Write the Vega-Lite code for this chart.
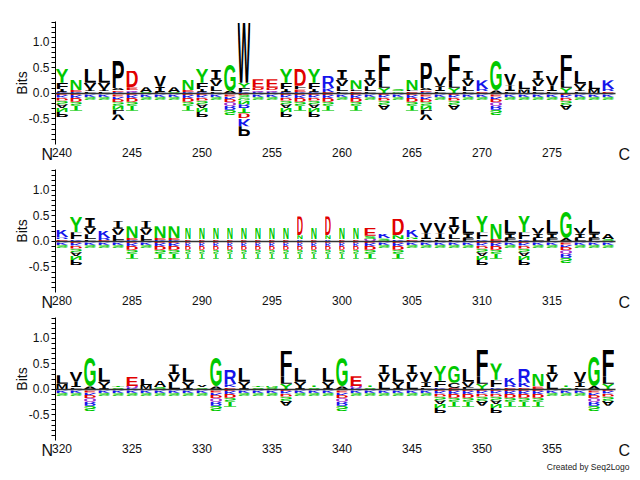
{
  "$schema": "https://vega.github.io/schema/vega-lite/v6.json",
  "background": "white",
  "padding": {"left": 15, "top": 15, "right": 2, "bottom": 2},
  "title": {"text": "Created by Seq2Logo", "orient": "bottom", "anchor": "end", "fontSize": 8.5, "fontWeight": "normal", "font": "Liberation Sans", "color": "#222", "offset": 5},
  "data": {"values": [
{"p":240,"a":"K","b":0.02},{"p":240,"a":"I","b":0.06},{"p":240,"a":"F","b":0.12},{"p":240,"a":"Y","b":0.28},{"p":240,"a":"E","b":-0.04},{"p":240,"a":"K","b":-0.05},{"p":240,"a":"D","b":-0.06},{"p":240,"a":"S","b":-0.07},{"p":240,"a":"A","b":-0.075},{"p":240,"a":"N","b":-0.08},{"p":240,"a":"P","b":-0.1},
{"p":241,"a":"K","b":0.02},{"p":241,"a":"E","b":0.04},{"p":241,"a":"N","b":0.21},{"p":241,"a":"E","b":-0.04},{"p":241,"a":"K","b":-0.06},{"p":241,"a":"D","b":-0.07},{"p":241,"a":"S","b":-0.08},{"p":241,"a":"T","b":-0.1},
{"p":242,"a":"F","b":0.03},{"p":242,"a":"I","b":0.05},{"p":242,"a":"V","b":0.12},{"p":242,"a":"L","b":0.28},{"p":242,"a":"E","b":-0.03},{"p":242,"a":"K","b":-0.05},{"p":242,"a":"S","b":-0.06},
{"p":243,"a":"F","b":0.03},{"p":243,"a":"I","b":0.05},{"p":243,"a":"V","b":0.12},{"p":243,"a":"L","b":0.28},{"p":243,"a":"E","b":-0.03},{"p":243,"a":"K","b":-0.05},{"p":243,"a":"S","b":-0.06},
{"p":244,"a":"K","b":0.02},{"p":244,"a":"E","b":0.03},{"p":244,"a":"A","b":0.04},{"p":244,"a":"P","b":0.54},{"p":244,"a":"Q","b":-0.03},{"p":244,"a":"E","b":-0.04},{"p":244,"a":"K","b":-0.05},{"p":244,"a":"D","b":-0.06},{"p":244,"a":"S","b":-0.07},{"p":244,"a":"N","b":-0.08},{"p":244,"a":"L","b":-0.09},{"p":244,"a":"V","b":-0.12},
{"p":245,"a":"K","b":0.02},{"p":245,"a":"Q","b":0.03},{"p":245,"a":"E","b":0.06},{"p":245,"a":"D","b":0.33},{"p":245,"a":"E","b":-0.04},{"p":245,"a":"K","b":-0.06},{"p":245,"a":"D","b":-0.07},{"p":245,"a":"S","b":-0.08},{"p":245,"a":"T","b":-0.1},
{"p":246,"a":"S","b":0.02},{"p":246,"a":"A","b":0.09},{"p":246,"a":"E","b":-0.03},{"p":246,"a":"K","b":-0.05},{"p":246,"a":"S","b":-0.06},
{"p":247,"a":"F","b":0.02},{"p":247,"a":"I","b":0.1},{"p":247,"a":"V","b":0.22},{"p":247,"a":"E","b":-0.03},{"p":247,"a":"K","b":-0.05},{"p":247,"a":"S","b":-0.06},
{"p":248,"a":"S","b":0.02},{"p":248,"a":"A","b":0.09},{"p":248,"a":"E","b":-0.03},{"p":248,"a":"K","b":-0.05},{"p":248,"a":"S","b":-0.06},
{"p":249,"a":"K","b":0.02},{"p":249,"a":"E","b":0.04},{"p":249,"a":"N","b":0.2},{"p":249,"a":"E","b":-0.04},{"p":249,"a":"K","b":-0.06},{"p":249,"a":"D","b":-0.07},{"p":249,"a":"S","b":-0.08},{"p":249,"a":"T","b":-0.1},
{"p":250,"a":"K","b":0.02},{"p":250,"a":"I","b":0.06},{"p":250,"a":"F","b":0.12},{"p":250,"a":"Y","b":0.28},{"p":250,"a":"E","b":-0.04},{"p":250,"a":"K","b":-0.05},{"p":250,"a":"D","b":-0.06},{"p":250,"a":"S","b":-0.07},{"p":250,"a":"A","b":-0.075},{"p":250,"a":"N","b":-0.08},{"p":250,"a":"P","b":-0.1},
{"p":251,"a":"F","b":0.03},{"p":251,"a":"L","b":0.1},{"p":251,"a":"V","b":0.13},{"p":251,"a":"I","b":0.2},{"p":251,"a":"E","b":-0.03},{"p":251,"a":"K","b":-0.05},{"p":251,"a":"S","b":-0.06},
{"p":252,"a":"A","b":0.04},{"p":252,"a":"G","b":0.52},{"p":252,"a":"A","b":-0.03},{"p":252,"a":"E","b":-0.04},{"p":252,"a":"K","b":-0.05},{"p":252,"a":"D","b":-0.06},{"p":252,"a":"Q","b":-0.07},{"p":252,"a":"R","b":-0.08},{"p":252,"a":"S","b":-0.1},
{"p":253,"a":"K","b":0.02},{"p":253,"a":"F","b":0.08},{"p":253,"a":"Y","b":0.1},{"p":253,"a":"W","b":1.2},{"p":253,"a":"E","b":-0.04},{"p":253,"a":"S","b":-0.05},{"p":253,"a":"G","b":-0.06},{"p":253,"a":"N","b":-0.07},{"p":253,"a":"R","b":-0.08},{"p":253,"a":"T","b":-0.1},{"p":253,"a":"D","b":-0.11},{"p":253,"a":"K","b":-0.14},{"p":253,"a":"P","b":-0.2},
{"p":254,"a":"K","b":0.02},{"p":254,"a":"Q","b":0.03},{"p":254,"a":"D","b":0.05},{"p":254,"a":"E","b":0.17},{"p":254,"a":"E","b":-0.03},{"p":254,"a":"K","b":-0.05},{"p":254,"a":"S","b":-0.06},
{"p":255,"a":"K","b":0.02},{"p":255,"a":"Q","b":0.03},{"p":255,"a":"D","b":0.05},{"p":255,"a":"E","b":0.17},{"p":255,"a":"E","b":-0.03},{"p":255,"a":"K","b":-0.05},{"p":255,"a":"S","b":-0.06},
{"p":256,"a":"K","b":0.02},{"p":256,"a":"I","b":0.06},{"p":256,"a":"F","b":0.12},{"p":256,"a":"Y","b":0.28},{"p":256,"a":"E","b":-0.04},{"p":256,"a":"K","b":-0.05},{"p":256,"a":"D","b":-0.06},{"p":256,"a":"S","b":-0.07},{"p":256,"a":"A","b":-0.075},{"p":256,"a":"N","b":-0.08},{"p":256,"a":"P","b":-0.1},
{"p":257,"a":"K","b":0.02},{"p":257,"a":"E","b":0.05},{"p":257,"a":"F","b":0.07},{"p":257,"a":"D","b":0.33},{"p":257,"a":"E","b":-0.04},{"p":257,"a":"K","b":-0.06},{"p":257,"a":"D","b":-0.07},{"p":257,"a":"S","b":-0.08},{"p":257,"a":"T","b":-0.1},
{"p":258,"a":"K","b":0.02},{"p":258,"a":"I","b":0.06},{"p":258,"a":"F","b":0.12},{"p":258,"a":"Y","b":0.28},{"p":258,"a":"E","b":-0.04},{"p":258,"a":"K","b":-0.05},{"p":258,"a":"D","b":-0.06},{"p":258,"a":"S","b":-0.07},{"p":258,"a":"A","b":-0.075},{"p":258,"a":"N","b":-0.08},{"p":258,"a":"P","b":-0.1},
{"p":259,"a":"E","b":0.02},{"p":259,"a":"K","b":0.07},{"p":259,"a":"R","b":0.24},{"p":259,"a":"E","b":-0.04},{"p":259,"a":"K","b":-0.06},{"p":259,"a":"D","b":-0.07},{"p":259,"a":"S","b":-0.08},{"p":259,"a":"T","b":-0.1},
{"p":260,"a":"F","b":0.03},{"p":260,"a":"L","b":0.1},{"p":260,"a":"V","b":0.13},{"p":260,"a":"I","b":0.19},{"p":260,"a":"E","b":-0.03},{"p":260,"a":"K","b":-0.05},{"p":260,"a":"S","b":-0.06},
{"p":261,"a":"E","b":0.03},{"p":261,"a":"L","b":0.04},{"p":261,"a":"N","b":0.18},{"p":261,"a":"E","b":-0.04},{"p":261,"a":"K","b":-0.06},{"p":261,"a":"D","b":-0.07},{"p":261,"a":"S","b":-0.08},{"p":261,"a":"T","b":-0.1},
{"p":262,"a":"F","b":0.03},{"p":262,"a":"L","b":0.1},{"p":262,"a":"V","b":0.13},{"p":262,"a":"I","b":0.19},{"p":262,"a":"E","b":-0.03},{"p":262,"a":"K","b":-0.05},{"p":262,"a":"S","b":-0.06},
{"p":263,"a":"Y","b":0.1},{"p":263,"a":"L","b":0.15},{"p":263,"a":"F","b":0.5},{"p":263,"a":"E","b":-0.04},{"p":263,"a":"K","b":-0.05},{"p":263,"a":"D","b":-0.06},{"p":263,"a":"S","b":-0.08},{"p":263,"a":"A","b":-0.1},
{"p":264,"a":"G","b":0.03},{"p":264,"a":"S","b":0.05},{"p":264,"a":"E","b":-0.03},{"p":264,"a":"K","b":-0.05},{"p":264,"a":"S","b":-0.06},
{"p":265,"a":"E","b":0.03},{"p":265,"a":"L","b":0.03},{"p":265,"a":"N","b":0.2},{"p":265,"a":"E","b":-0.04},{"p":265,"a":"K","b":-0.06},{"p":265,"a":"D","b":-0.07},{"p":265,"a":"S","b":-0.08},{"p":265,"a":"T","b":-0.1},
{"p":266,"a":"K","b":0.02},{"p":266,"a":"E","b":0.03},{"p":266,"a":"A","b":0.04},{"p":266,"a":"P","b":0.5},{"p":266,"a":"Q","b":-0.03},{"p":266,"a":"E","b":-0.04},{"p":266,"a":"K","b":-0.05},{"p":266,"a":"D","b":-0.06},{"p":266,"a":"S","b":-0.07},{"p":266,"a":"N","b":-0.08},{"p":266,"a":"L","b":-0.09},{"p":266,"a":"V","b":-0.12},
{"p":267,"a":"F","b":0.03},{"p":267,"a":"I","b":0.1},{"p":267,"a":"V","b":0.18},{"p":267,"a":"E","b":-0.03},{"p":267,"a":"K","b":-0.05},{"p":267,"a":"S","b":-0.06},
{"p":268,"a":"Y","b":0.1},{"p":268,"a":"L","b":0.15},{"p":268,"a":"F","b":0.5},{"p":268,"a":"E","b":-0.04},{"p":268,"a":"K","b":-0.05},{"p":268,"a":"D","b":-0.06},{"p":268,"a":"S","b":-0.08},{"p":268,"a":"A","b":-0.1},
{"p":269,"a":"F","b":0.03},{"p":269,"a":"L","b":0.1},{"p":269,"a":"V","b":0.13},{"p":269,"a":"I","b":0.18},{"p":269,"a":"E","b":-0.03},{"p":269,"a":"K","b":-0.05},{"p":269,"a":"S","b":-0.06},
{"p":270,"a":"E","b":0.03},{"p":270,"a":"R","b":0.05},{"p":270,"a":"K","b":0.17},{"p":270,"a":"E","b":-0.03},{"p":270,"a":"K","b":-0.05},{"p":270,"a":"S","b":-0.06},
{"p":271,"a":"A","b":0.05},{"p":271,"a":"G","b":0.58},{"p":271,"a":"A","b":-0.03},{"p":271,"a":"E","b":-0.04},{"p":271,"a":"K","b":-0.05},{"p":271,"a":"D","b":-0.06},{"p":271,"a":"Q","b":-0.07},{"p":271,"a":"R","b":-0.08},{"p":271,"a":"S","b":-0.1},
{"p":272,"a":"F","b":0.03},{"p":272,"a":"I","b":0.12},{"p":272,"a":"V","b":0.22},{"p":272,"a":"E","b":-0.03},{"p":272,"a":"K","b":-0.05},{"p":272,"a":"S","b":-0.06},
{"p":273,"a":"M","b":0.07},{"p":273,"a":"L","b":0.16},{"p":273,"a":"E","b":-0.03},{"p":273,"a":"K","b":-0.05},{"p":273,"a":"S","b":-0.06},
{"p":274,"a":"F","b":0.03},{"p":274,"a":"L","b":0.1},{"p":274,"a":"V","b":0.13},{"p":274,"a":"I","b":0.18},{"p":274,"a":"E","b":-0.03},{"p":274,"a":"K","b":-0.05},{"p":274,"a":"S","b":-0.06},
{"p":275,"a":"F","b":0.03},{"p":275,"a":"I","b":0.11},{"p":275,"a":"V","b":0.21},{"p":275,"a":"E","b":-0.03},{"p":275,"a":"K","b":-0.05},{"p":275,"a":"S","b":-0.06},
{"p":276,"a":"Y","b":0.1},{"p":276,"a":"L","b":0.15},{"p":276,"a":"F","b":0.5},{"p":276,"a":"E","b":-0.04},{"p":276,"a":"K","b":-0.05},{"p":276,"a":"D","b":-0.06},{"p":276,"a":"S","b":-0.08},{"p":276,"a":"A","b":-0.1},
{"p":277,"a":"F","b":0.03},{"p":277,"a":"I","b":0.05},{"p":277,"a":"V","b":0.1},{"p":277,"a":"L","b":0.26},{"p":277,"a":"E","b":-0.03},{"p":277,"a":"K","b":-0.05},{"p":277,"a":"S","b":-0.06},
{"p":278,"a":"M","b":0.08},{"p":278,"a":"L","b":0.16},{"p":278,"a":"E","b":-0.03},{"p":278,"a":"K","b":-0.05},{"p":278,"a":"S","b":-0.06},
{"p":279,"a":"E","b":0.03},{"p":279,"a":"R","b":0.05},{"p":279,"a":"K","b":0.17},{"p":279,"a":"E","b":-0.03},{"p":279,"a":"K","b":-0.05},{"p":279,"a":"S","b":-0.06},
{"p":280,"a":"E","b":0.03},{"p":280,"a":"R","b":0.04},{"p":280,"a":"K","b":0.15},{"p":280,"a":"E","b":-0.03},{"p":280,"a":"K","b":-0.05},{"p":280,"a":"S","b":-0.06},
{"p":281,"a":"K","b":0.03},{"p":281,"a":"F","b":0.14},{"p":281,"a":"Y","b":0.31},{"p":281,"a":"E","b":-0.04},{"p":281,"a":"K","b":-0.05},{"p":281,"a":"D","b":-0.06},{"p":281,"a":"S","b":-0.07},{"p":281,"a":"A","b":-0.075},{"p":281,"a":"N","b":-0.08},{"p":281,"a":"P","b":-0.1},
{"p":282,"a":"F","b":0.03},{"p":282,"a":"L","b":0.1},{"p":282,"a":"V","b":0.13},{"p":282,"a":"I","b":0.2},{"p":282,"a":"E","b":-0.03},{"p":282,"a":"K","b":-0.05},{"p":282,"a":"S","b":-0.06},
{"p":283,"a":"E","b":0.02},{"p":283,"a":"R","b":0.04},{"p":283,"a":"K","b":0.14},{"p":283,"a":"E","b":-0.03},{"p":283,"a":"K","b":-0.05},{"p":283,"a":"S","b":-0.06},
{"p":284,"a":"F","b":0.02},{"p":284,"a":"L","b":0.1},{"p":284,"a":"V","b":0.12},{"p":284,"a":"I","b":0.16},{"p":284,"a":"E","b":-0.03},{"p":284,"a":"K","b":-0.05},{"p":284,"a":"S","b":-0.06},
{"p":285,"a":"K","b":0.02},{"p":285,"a":"E","b":0.04},{"p":285,"a":"N","b":0.23},{"p":285,"a":"E","b":-0.04},{"p":285,"a":"K","b":-0.06},{"p":285,"a":"D","b":-0.07},{"p":285,"a":"S","b":-0.08},{"p":285,"a":"T","b":-0.1},
{"p":286,"a":"F","b":0.02},{"p":286,"a":"L","b":0.1},{"p":286,"a":"V","b":0.12},{"p":286,"a":"I","b":0.16},{"p":286,"a":"E","b":-0.03},{"p":286,"a":"K","b":-0.05},{"p":286,"a":"S","b":-0.06},
{"p":287,"a":"K","b":0.02},{"p":287,"a":"E","b":0.04},{"p":287,"a":"N","b":0.23},{"p":287,"a":"E","b":-0.04},{"p":287,"a":"K","b":-0.06},{"p":287,"a":"D","b":-0.07},{"p":287,"a":"S","b":-0.08},{"p":287,"a":"T","b":-0.1},
{"p":288,"a":"K","b":0.02},{"p":288,"a":"E","b":0.04},{"p":288,"a":"N","b":0.23},{"p":288,"a":"E","b":-0.04},{"p":288,"a":"K","b":-0.06},{"p":288,"a":"D","b":-0.07},{"p":288,"a":"S","b":-0.08},{"p":288,"a":"T","b":-0.1},
{"p":289,"a":"E","b":0.03},{"p":289,"a":"N","b":0.23},{"p":289,"a":"E","b":-0.04},{"p":289,"a":"K","b":-0.06},{"p":289,"a":"D","b":-0.07},{"p":289,"a":"S","b":-0.08},{"p":289,"a":"T","b":-0.1},
{"p":290,"a":"E","b":0.03},{"p":290,"a":"N","b":0.23},{"p":290,"a":"E","b":-0.04},{"p":290,"a":"K","b":-0.06},{"p":290,"a":"D","b":-0.07},{"p":290,"a":"S","b":-0.08},{"p":290,"a":"T","b":-0.1},
{"p":291,"a":"E","b":0.03},{"p":291,"a":"N","b":0.23},{"p":291,"a":"E","b":-0.04},{"p":291,"a":"K","b":-0.06},{"p":291,"a":"D","b":-0.07},{"p":291,"a":"S","b":-0.08},{"p":291,"a":"T","b":-0.1},
{"p":292,"a":"E","b":0.03},{"p":292,"a":"N","b":0.23},{"p":292,"a":"E","b":-0.04},{"p":292,"a":"K","b":-0.06},{"p":292,"a":"D","b":-0.07},{"p":292,"a":"S","b":-0.08},{"p":292,"a":"T","b":-0.1},
{"p":293,"a":"E","b":0.03},{"p":293,"a":"N","b":0.23},{"p":293,"a":"E","b":-0.04},{"p":293,"a":"K","b":-0.06},{"p":293,"a":"D","b":-0.07},{"p":293,"a":"S","b":-0.08},{"p":293,"a":"T","b":-0.1},
{"p":294,"a":"E","b":0.03},{"p":294,"a":"N","b":0.23},{"p":294,"a":"E","b":-0.04},{"p":294,"a":"K","b":-0.06},{"p":294,"a":"D","b":-0.07},{"p":294,"a":"S","b":-0.08},{"p":294,"a":"T","b":-0.1},
{"p":295,"a":"E","b":0.03},{"p":295,"a":"N","b":0.23},{"p":295,"a":"E","b":-0.04},{"p":295,"a":"K","b":-0.06},{"p":295,"a":"D","b":-0.07},{"p":295,"a":"S","b":-0.08},{"p":295,"a":"T","b":-0.1},
{"p":296,"a":"E","b":0.03},{"p":296,"a":"N","b":0.23},{"p":296,"a":"E","b":-0.04},{"p":296,"a":"K","b":-0.06},{"p":296,"a":"D","b":-0.07},{"p":296,"a":"S","b":-0.08},{"p":296,"a":"T","b":-0.1},
{"p":297,"a":"K","b":0.03},{"p":297,"a":"N","b":0.08},{"p":297,"a":"D","b":0.37},{"p":297,"a":"E","b":-0.04},{"p":297,"a":"K","b":-0.06},{"p":297,"a":"D","b":-0.07},{"p":297,"a":"S","b":-0.08},{"p":297,"a":"T","b":-0.1},
{"p":298,"a":"E","b":0.03},{"p":298,"a":"N","b":0.23},{"p":298,"a":"E","b":-0.04},{"p":298,"a":"K","b":-0.06},{"p":298,"a":"D","b":-0.07},{"p":298,"a":"S","b":-0.08},{"p":298,"a":"T","b":-0.1},
{"p":299,"a":"K","b":0.03},{"p":299,"a":"N","b":0.08},{"p":299,"a":"D","b":0.37},{"p":299,"a":"E","b":-0.04},{"p":299,"a":"K","b":-0.06},{"p":299,"a":"D","b":-0.07},{"p":299,"a":"S","b":-0.08},{"p":299,"a":"T","b":-0.1},
{"p":300,"a":"E","b":0.03},{"p":300,"a":"N","b":0.23},{"p":300,"a":"E","b":-0.04},{"p":300,"a":"K","b":-0.06},{"p":300,"a":"D","b":-0.07},{"p":300,"a":"S","b":-0.08},{"p":300,"a":"T","b":-0.1},
{"p":301,"a":"E","b":0.03},{"p":301,"a":"N","b":0.23},{"p":301,"a":"E","b":-0.04},{"p":301,"a":"K","b":-0.06},{"p":301,"a":"D","b":-0.07},{"p":301,"a":"S","b":-0.08},{"p":301,"a":"T","b":-0.1},
{"p":302,"a":"Q","b":0.04},{"p":302,"a":"S","b":0.06},{"p":302,"a":"E","b":0.16},{"p":302,"a":"E","b":-0.04},{"p":302,"a":"K","b":-0.06},{"p":302,"a":"D","b":-0.07},{"p":302,"a":"S","b":-0.08},{"p":302,"a":"T","b":-0.1},
{"p":303,"a":"S","b":0.05},{"p":303,"a":"K","b":0.09},{"p":303,"a":"E","b":-0.03},{"p":303,"a":"K","b":-0.05},{"p":303,"a":"S","b":-0.06},
{"p":304,"a":"K","b":0.03},{"p":304,"a":"N","b":0.08},{"p":304,"a":"D","b":0.32},{"p":304,"a":"E","b":-0.04},{"p":304,"a":"K","b":-0.06},{"p":304,"a":"D","b":-0.07},{"p":304,"a":"S","b":-0.08},{"p":304,"a":"T","b":-0.1},
{"p":305,"a":"E","b":0.03},{"p":305,"a":"N","b":0.04},{"p":305,"a":"K","b":0.15},{"p":305,"a":"E","b":-0.03},{"p":305,"a":"K","b":-0.05},{"p":305,"a":"S","b":-0.06},
{"p":306,"a":"F","b":0.03},{"p":306,"a":"I","b":0.12},{"p":306,"a":"V","b":0.2},{"p":306,"a":"E","b":-0.03},{"p":306,"a":"K","b":-0.05},{"p":306,"a":"S","b":-0.06},
{"p":307,"a":"F","b":0.03},{"p":307,"a":"I","b":0.12},{"p":307,"a":"V","b":0.2},{"p":307,"a":"E","b":-0.03},{"p":307,"a":"K","b":-0.05},{"p":307,"a":"S","b":-0.06},
{"p":308,"a":"F","b":0.03},{"p":308,"a":"L","b":0.1},{"p":308,"a":"V","b":0.14},{"p":308,"a":"I","b":0.2},{"p":308,"a":"E","b":-0.03},{"p":308,"a":"K","b":-0.05},{"p":308,"a":"S","b":-0.06},
{"p":309,"a":"F","b":0.06},{"p":309,"a":"I","b":0.08},{"p":309,"a":"L","b":0.28},{"p":309,"a":"E","b":-0.03},{"p":309,"a":"K","b":-0.05},{"p":309,"a":"S","b":-0.06},
{"p":310,"a":"K","b":0.03},{"p":310,"a":"F","b":0.14},{"p":310,"a":"Y","b":0.32},{"p":310,"a":"E","b":-0.04},{"p":310,"a":"K","b":-0.05},{"p":310,"a":"D","b":-0.06},{"p":310,"a":"S","b":-0.07},{"p":310,"a":"A","b":-0.075},{"p":310,"a":"N","b":-0.08},{"p":310,"a":"P","b":-0.1},
{"p":311,"a":"E","b":0.04},{"p":311,"a":"N","b":0.3},{"p":311,"a":"E","b":-0.04},{"p":311,"a":"K","b":-0.06},{"p":311,"a":"D","b":-0.07},{"p":311,"a":"S","b":-0.08},{"p":311,"a":"T","b":-0.1},
{"p":312,"a":"F","b":0.06},{"p":312,"a":"I","b":0.08},{"p":312,"a":"L","b":0.28},{"p":312,"a":"E","b":-0.03},{"p":312,"a":"K","b":-0.05},{"p":312,"a":"S","b":-0.06},
{"p":313,"a":"K","b":0.03},{"p":313,"a":"F","b":0.14},{"p":313,"a":"Y","b":0.32},{"p":313,"a":"E","b":-0.04},{"p":313,"a":"K","b":-0.05},{"p":313,"a":"D","b":-0.06},{"p":313,"a":"S","b":-0.07},{"p":313,"a":"A","b":-0.075},{"p":313,"a":"N","b":-0.08},{"p":313,"a":"P","b":-0.1},
{"p":314,"a":"L","b":0.06},{"p":314,"a":"I","b":0.08},{"p":314,"a":"V","b":0.13},{"p":314,"a":"E","b":-0.03},{"p":314,"a":"K","b":-0.05},{"p":314,"a":"S","b":-0.06},
{"p":315,"a":"F","b":0.06},{"p":315,"a":"I","b":0.08},{"p":315,"a":"L","b":0.28},{"p":315,"a":"E","b":-0.03},{"p":315,"a":"K","b":-0.05},{"p":315,"a":"S","b":-0.06},
{"p":316,"a":"A","b":0.06},{"p":316,"a":"G","b":0.52},{"p":316,"a":"A","b":-0.03},{"p":316,"a":"E","b":-0.04},{"p":316,"a":"K","b":-0.05},{"p":316,"a":"D","b":-0.06},{"p":316,"a":"Q","b":-0.07},{"p":316,"a":"R","b":-0.08},{"p":316,"a":"S","b":-0.1},
{"p":317,"a":"L","b":0.06},{"p":317,"a":"I","b":0.08},{"p":317,"a":"V","b":0.13},{"p":317,"a":"E","b":-0.03},{"p":317,"a":"K","b":-0.05},{"p":317,"a":"S","b":-0.06},
{"p":318,"a":"F","b":0.06},{"p":318,"a":"I","b":0.08},{"p":318,"a":"L","b":0.28},{"p":318,"a":"E","b":-0.03},{"p":318,"a":"K","b":-0.05},{"p":318,"a":"S","b":-0.06},
{"p":319,"a":"S","b":0.04},{"p":319,"a":"A","b":0.1},{"p":319,"a":"E","b":-0.03},{"p":319,"a":"K","b":-0.05},{"p":319,"a":"S","b":-0.06},
{"p":320,"a":"M","b":0.1},{"p":320,"a":"L","b":0.17},{"p":320,"a":"E","b":-0.03},{"p":320,"a":"K","b":-0.05},{"p":320,"a":"S","b":-0.06},
{"p":321,"a":"F","b":0.03},{"p":321,"a":"I","b":0.11},{"p":321,"a":"V","b":0.2},{"p":321,"a":"E","b":-0.03},{"p":321,"a":"K","b":-0.05},{"p":321,"a":"S","b":-0.06},
{"p":322,"a":"A","b":0.05},{"p":322,"a":"G","b":0.56},{"p":322,"a":"A","b":-0.03},{"p":322,"a":"E","b":-0.04},{"p":322,"a":"K","b":-0.05},{"p":322,"a":"D","b":-0.06},{"p":322,"a":"Q","b":-0.07},{"p":322,"a":"R","b":-0.08},{"p":322,"a":"S","b":-0.1},
{"p":323,"a":"I","b":0.06},{"p":323,"a":"V","b":0.08},{"p":323,"a":"L","b":0.28},{"p":323,"a":"E","b":-0.03},{"p":323,"a":"K","b":-0.05},{"p":323,"a":"S","b":-0.06},
{"p":324,"a":"S","b":0.03},{"p":324,"a":"T","b":0.03},{"p":324,"a":"E","b":-0.03},{"p":324,"a":"K","b":-0.05},{"p":324,"a":"S","b":-0.06},
{"p":325,"a":"K","b":0.02},{"p":325,"a":"Q","b":0.04},{"p":325,"a":"E","b":0.18},{"p":325,"a":"E","b":-0.03},{"p":325,"a":"K","b":-0.05},{"p":325,"a":"S","b":-0.06},
{"p":326,"a":"M","b":0.08},{"p":326,"a":"L","b":0.12},{"p":326,"a":"E","b":-0.03},{"p":326,"a":"K","b":-0.05},{"p":326,"a":"S","b":-0.06},
{"p":327,"a":"S","b":0.04},{"p":327,"a":"A","b":0.12},{"p":327,"a":"E","b":-0.03},{"p":327,"a":"K","b":-0.05},{"p":327,"a":"S","b":-0.06},
{"p":328,"a":"L","b":0.14},{"p":328,"a":"V","b":0.15},{"p":328,"a":"I","b":0.19},{"p":328,"a":"E","b":-0.03},{"p":328,"a":"K","b":-0.05},{"p":328,"a":"S","b":-0.06},
{"p":329,"a":"I","b":0.06},{"p":329,"a":"V","b":0.08},{"p":329,"a":"L","b":0.28},{"p":329,"a":"E","b":-0.03},{"p":329,"a":"K","b":-0.05},{"p":329,"a":"S","b":-0.06},
{"p":330,"a":"S","b":0.03},{"p":330,"a":"V","b":0.05},{"p":330,"a":"E","b":-0.03},{"p":330,"a":"K","b":-0.05},{"p":330,"a":"S","b":-0.06},
{"p":331,"a":"A","b":0.05},{"p":331,"a":"G","b":0.56},{"p":331,"a":"A","b":-0.03},{"p":331,"a":"E","b":-0.04},{"p":331,"a":"K","b":-0.05},{"p":331,"a":"D","b":-0.06},{"p":331,"a":"Q","b":-0.07},{"p":331,"a":"R","b":-0.08},{"p":331,"a":"S","b":-0.1},
{"p":332,"a":"E","b":0.03},{"p":332,"a":"K","b":0.06},{"p":332,"a":"R","b":0.28},{"p":332,"a":"E","b":-0.04},{"p":332,"a":"K","b":-0.06},{"p":332,"a":"D","b":-0.07},{"p":332,"a":"S","b":-0.08},{"p":332,"a":"T","b":-0.1},
{"p":333,"a":"I","b":0.06},{"p":333,"a":"V","b":0.08},{"p":333,"a":"L","b":0.28},{"p":333,"a":"E","b":-0.03},{"p":333,"a":"K","b":-0.05},{"p":333,"a":"S","b":-0.06},
{"p":334,"a":"S","b":0.03},{"p":334,"a":"T","b":0.03},{"p":334,"a":"E","b":-0.03},{"p":334,"a":"K","b":-0.05},{"p":334,"a":"S","b":-0.06},
{"p":335,"a":"S","b":0.02},{"p":335,"a":"G","b":0.04},{"p":335,"a":"E","b":-0.03},{"p":335,"a":"K","b":-0.05},{"p":335,"a":"S","b":-0.06},
{"p":336,"a":"Y","b":0.1},{"p":336,"a":"L","b":0.15},{"p":336,"a":"F","b":0.5},{"p":336,"a":"E","b":-0.04},{"p":336,"a":"K","b":-0.05},{"p":336,"a":"D","b":-0.06},{"p":336,"a":"S","b":-0.08},{"p":336,"a":"A","b":-0.1},
{"p":337,"a":"I","b":0.06},{"p":337,"a":"V","b":0.08},{"p":337,"a":"L","b":0.28},{"p":337,"a":"E","b":-0.03},{"p":337,"a":"K","b":-0.05},{"p":337,"a":"S","b":-0.06},
{"p":338,"a":"S","b":0.03},{"p":338,"a":"T","b":0.04},{"p":338,"a":"E","b":-0.03},{"p":338,"a":"K","b":-0.05},{"p":338,"a":"S","b":-0.06},
{"p":339,"a":"I","b":0.06},{"p":339,"a":"V","b":0.08},{"p":339,"a":"L","b":0.28},{"p":339,"a":"E","b":-0.03},{"p":339,"a":"K","b":-0.05},{"p":339,"a":"S","b":-0.06},
{"p":340,"a":"A","b":0.05},{"p":340,"a":"G","b":0.55},{"p":340,"a":"A","b":-0.03},{"p":340,"a":"E","b":-0.04},{"p":340,"a":"K","b":-0.05},{"p":340,"a":"D","b":-0.06},{"p":340,"a":"Q","b":-0.07},{"p":340,"a":"R","b":-0.08},{"p":340,"a":"S","b":-0.1},
{"p":341,"a":"K","b":0.02},{"p":341,"a":"Q","b":0.04},{"p":341,"a":"E","b":0.19},{"p":341,"a":"E","b":-0.03},{"p":341,"a":"K","b":-0.05},{"p":341,"a":"S","b":-0.06},
{"p":342,"a":"S","b":0.03},{"p":342,"a":"T","b":0.04},{"p":342,"a":"E","b":-0.03},{"p":342,"a":"K","b":-0.05},{"p":342,"a":"S","b":-0.06},
{"p":343,"a":"L","b":0.14},{"p":343,"a":"V","b":0.15},{"p":343,"a":"I","b":0.18},{"p":343,"a":"E","b":-0.03},{"p":343,"a":"K","b":-0.05},{"p":343,"a":"S","b":-0.06},
{"p":344,"a":"I","b":0.06},{"p":344,"a":"V","b":0.08},{"p":344,"a":"L","b":0.28},{"p":344,"a":"E","b":-0.03},{"p":344,"a":"K","b":-0.05},{"p":344,"a":"S","b":-0.06},
{"p":345,"a":"L","b":0.14},{"p":345,"a":"V","b":0.15},{"p":345,"a":"I","b":0.18},{"p":345,"a":"E","b":-0.03},{"p":345,"a":"K","b":-0.05},{"p":345,"a":"S","b":-0.06},
{"p":346,"a":"F","b":0.03},{"p":346,"a":"I","b":0.1},{"p":346,"a":"V","b":0.2},{"p":346,"a":"E","b":-0.03},{"p":346,"a":"K","b":-0.05},{"p":346,"a":"S","b":-0.06},
{"p":347,"a":"K","b":0.03},{"p":347,"a":"F","b":0.13},{"p":347,"a":"Y","b":0.31},{"p":347,"a":"E","b":-0.04},{"p":347,"a":"K","b":-0.05},{"p":347,"a":"D","b":-0.06},{"p":347,"a":"S","b":-0.07},{"p":347,"a":"A","b":-0.075},{"p":347,"a":"N","b":-0.08},{"p":347,"a":"P","b":-0.1},
{"p":348,"a":"E","b":0.02},{"p":348,"a":"C","b":0.1},{"p":348,"a":"G","b":0.33},{"p":348,"a":"E","b":-0.04},{"p":348,"a":"K","b":-0.06},{"p":348,"a":"D","b":-0.07},{"p":348,"a":"S","b":-0.08},{"p":348,"a":"T","b":-0.1},
{"p":349,"a":"F","b":0.04},{"p":349,"a":"V","b":0.1},{"p":349,"a":"L","b":0.26},{"p":349,"a":"E","b":-0.04},{"p":349,"a":"K","b":-0.06},{"p":349,"a":"D","b":-0.07},{"p":349,"a":"S","b":-0.08},{"p":349,"a":"T","b":-0.1},
{"p":350,"a":"Y","b":0.1},{"p":350,"a":"L","b":0.15},{"p":350,"a":"F","b":0.52},{"p":350,"a":"E","b":-0.04},{"p":350,"a":"K","b":-0.05},{"p":350,"a":"D","b":-0.06},{"p":350,"a":"S","b":-0.08},{"p":350,"a":"A","b":-0.1},
{"p":351,"a":"K","b":0.03},{"p":351,"a":"F","b":0.15},{"p":351,"a":"Y","b":0.32},{"p":351,"a":"E","b":-0.04},{"p":351,"a":"K","b":-0.05},{"p":351,"a":"D","b":-0.06},{"p":351,"a":"S","b":-0.07},{"p":351,"a":"A","b":-0.075},{"p":351,"a":"N","b":-0.08},{"p":351,"a":"P","b":-0.1},
{"p":352,"a":"E","b":0.03},{"p":352,"a":"R","b":0.05},{"p":352,"a":"K","b":0.14},{"p":352,"a":"E","b":-0.04},{"p":352,"a":"K","b":-0.06},{"p":352,"a":"D","b":-0.07},{"p":352,"a":"S","b":-0.08},{"p":352,"a":"T","b":-0.1},
{"p":353,"a":"E","b":0.03},{"p":353,"a":"K","b":0.09},{"p":353,"a":"R","b":0.28},{"p":353,"a":"E","b":-0.04},{"p":353,"a":"K","b":-0.06},{"p":353,"a":"D","b":-0.07},{"p":353,"a":"S","b":-0.08},{"p":353,"a":"T","b":-0.1},
{"p":354,"a":"E","b":0.05},{"p":354,"a":"N","b":0.25},{"p":354,"a":"E","b":-0.04},{"p":354,"a":"K","b":-0.06},{"p":354,"a":"D","b":-0.07},{"p":354,"a":"S","b":-0.08},{"p":354,"a":"T","b":-0.1},
{"p":355,"a":"L","b":0.14},{"p":355,"a":"V","b":0.15},{"p":355,"a":"I","b":0.18},{"p":355,"a":"E","b":-0.03},{"p":355,"a":"K","b":-0.05},{"p":355,"a":"S","b":-0.06},
{"p":356,"a":"S","b":0.03},{"p":356,"a":"T","b":0.04},{"p":356,"a":"E","b":-0.03},{"p":356,"a":"K","b":-0.05},{"p":356,"a":"S","b":-0.06},
{"p":357,"a":"F","b":0.03},{"p":357,"a":"I","b":0.1},{"p":357,"a":"V","b":0.21},{"p":357,"a":"E","b":-0.03},{"p":357,"a":"K","b":-0.05},{"p":357,"a":"S","b":-0.06},
{"p":358,"a":"A","b":0.06},{"p":358,"a":"G","b":0.59},{"p":358,"a":"A","b":-0.03},{"p":358,"a":"E","b":-0.04},{"p":358,"a":"K","b":-0.05},{"p":358,"a":"D","b":-0.06},{"p":358,"a":"Q","b":-0.07},{"p":358,"a":"R","b":-0.08},{"p":358,"a":"S","b":-0.1},
{"p":359,"a":"Y","b":0.1},{"p":359,"a":"L","b":0.15},{"p":359,"a":"F","b":0.52},{"p":359,"a":"E","b":-0.04},{"p":359,"a":"K","b":-0.05},{"p":359,"a":"D","b":-0.06},{"p":359,"a":"S","b":-0.08},{"p":359,"a":"A","b":-0.1}
  ]},
  "transform": [
    {"calculate": "'data:image/svg+xml;utf8,<svg xmlns=\"http://www.w3.org/2000/svg\" width=\"100\" height=\"100\" viewBox=\"0 0 100 100\" preserveAspectRatio=\"none\"><text x=\"0\" y=\"100\" textLength=\"100\" lengthAdjust=\"spacingAndGlyphs\" font-family=\"' + (datum.a == 'I' ? 'DejaVu Sans Mono' : 'Liberation Sans') + '\" font-weight=\"bold\" font-size=\"142\" fill=\"' + (indexof('DE', datum.a) >= 0 ? 'rgb(225,0,0)' : indexof('KRH', datum.a) >= 0 ? 'rgb(20,20,235)' : indexof('GNSTY', datum.a) >= 0 ? 'rgb(0,200,0)' : datum.a == 'Q' ? 'rgb(160,40,200)' : 'black') + '\"' + (datum.b < 0 ? ' transform=\"matrix(1 0 0 -1 0 100)\"' : '') + '>' + datum.a + '</text></svg>'", "as": "img"}
  ],
  "spacing": 25,
  "bounds": "flush",
  "vconcat": [
    {
      "width": 560, "height": 123,
      "transform": [{"filter": "datum.p >= 240 && datum.p <= 279"}],
      "encoding": {
        "x": {"field": "p", "type": "ordinal", "scale": {"paddingInner": 0, "paddingOuter": 0},
          "axis": {"labelExpr": "datum.value % 5 == 0 ? datum.label : ''", "labelAngle": 0, "labelOverlap": false, "ticks": false, "domain": false, "labelFontSize": 12, "labelPadding": 3, "labelColor": "#111",
            "title": "N", "titleAnchor": "start", "titleAlign": "left", "titleBaseline": "alphabetic", "titleX": -14, "titleY": 15, "titleFontSize": 16, "titleFontWeight": "normal", "titleColor": "#111"}},
        "url": {"field": "img", "type": "nominal"}
      },
      "layer": [
        {
          "transform": [{"filter": "datum.b > 0"}, {"stack": "b", "groupby": ["p"], "sort": [{"field": "b", "order": "ascending"}], "as": ["y0", "y1"]}],
          "mark": {"type": "image", "aspect": false, "width": {"band": 0.93}, "clip": true},
          "encoding": {
            "y": {"field": "y0", "type": "quantitative", "scale": {"domain": [-1, 1.41], "nice": false, "zero": false},
              "axis": {"title": "Bits", "values": [-0.9,-0.8,-0.7,-0.6,-0.5,-0.4,-0.3,-0.2,-0.1,0,0.1,0.2,0.3,0.4,0.5,0.6,0.7,0.8,0.9,1,1.1,1.2,1.3,1.4], "labelExpr": "datum.value == 0 ? '0.0' : datum.value == 0.5 ? '0.5' : datum.value == 1 ? '1.0' : datum.value == -0.5 ? '-0.5' : ''", "labelOverlap": false, "tickSize": 4, "tickColor": "#000", "domainColor": "#000", "labelPadding": 2, "labelFontSize": 12, "labelColor": "#111", "grid": false, "titleFontSize": 14, "titleFontWeight": "normal", "titleColor": "#111", "titleAngle": -90, "titleX": -33, "titleY": 61.5, "titleAlign": "center", "titleBaseline": "middle"}},
            "y2": {"field": "y1"}
          }
        },
        {
          "transform": [{"filter": "datum.b < 0"}, {"stack": "b", "groupby": ["p"], "sort": [{"field": "b", "order": "descending"}], "as": ["y0", "y1"]}],
          "mark": {"type": "image", "aspect": false, "width": {"band": 0.93}, "clip": true},
          "encoding": {
            "y": {"field": "y0", "type": "quantitative", "scale": {"domain": [-1, 1.41], "nice": false, "zero": false},
              "axis": {"orient": "right", "title": "C", "titleAngle": 0, "titleAlign": "left", "titleBaseline": "alphabetic", "titleX": 3, "titleY": 138, "titleFontSize": 16, "titleFontWeight": "normal", "titleColor": "#111", "labels": false, "ticks": false, "domain": false, "grid": true, "values": [0], "gridColor": "#333", "gridWidth": 1.5, "zindex": 1}},
            "y2": {"field": "y1"}
          }
        }
      ],
      "resolve": {"axis": {"y": "independent"}}
    },
    {
      "width": 560, "height": 123,
      "transform": [{"filter": "datum.p >= 280 && datum.p <= 319"}],
      "encoding": {
        "x": {"field": "p", "type": "ordinal", "scale": {"paddingInner": 0, "paddingOuter": 0},
          "axis": {"labelExpr": "datum.value % 5 == 0 ? datum.label : ''", "labelAngle": 0, "labelOverlap": false, "ticks": false, "domain": false, "labelFontSize": 12, "labelPadding": 3, "labelColor": "#111",
            "title": "N", "titleAnchor": "start", "titleAlign": "left", "titleBaseline": "alphabetic", "titleX": -14, "titleY": 15, "titleFontSize": 16, "titleFontWeight": "normal", "titleColor": "#111"}},
        "url": {"field": "img", "type": "nominal"}
      },
      "layer": [
        {
          "transform": [{"filter": "datum.b > 0 && (datum.p < 289 || datum.p > 301)"}, {"stack": "b", "groupby": ["p"], "sort": [{"field": "b", "order": "ascending"}], "as": ["y0", "y1"]}],
          "mark": {"type": "image", "aspect": false, "width": {"band": 0.93}, "clip": true},
          "encoding": {
            "y": {"field": "y0", "type": "quantitative", "scale": {"domain": [-1, 1.41], "nice": false, "zero": false},
              "axis": {"title": "Bits", "values": [-0.9,-0.8,-0.7,-0.6,-0.5,-0.4,-0.3,-0.2,-0.1,0,0.1,0.2,0.3,0.4,0.5,0.6,0.7,0.8,0.9,1,1.1,1.2,1.3,1.4], "labelExpr": "datum.value == 0 ? '0.0' : datum.value == 0.5 ? '0.5' : datum.value == 1 ? '1.0' : datum.value == -0.5 ? '-0.5' : ''", "labelOverlap": false, "tickSize": 4, "tickColor": "#000", "domainColor": "#000", "labelPadding": 2, "labelFontSize": 12, "labelColor": "#111", "grid": false, "titleFontSize": 14, "titleFontWeight": "normal", "titleColor": "#111", "titleAngle": -90, "titleX": -33, "titleY": 61.5, "titleAlign": "center", "titleBaseline": "middle"}},
            "y2": {"field": "y1"}
          }
        },
        {
          "transform": [{"filter": "datum.b > 0 && datum.p >= 289 && datum.p <= 301"}, {"stack": "b", "groupby": ["p"], "sort": [{"field": "b", "order": "ascending"}], "as": ["y0", "y1"]}],
          "mark": {"type": "image", "aspect": false, "width": {"band": 0.45}, "clip": true},
          "encoding": {
            "y": {"field": "y0", "type": "quantitative", "scale": {"domain": [-1, 1.41], "nice": false, "zero": false}, "axis": null},
            "y2": {"field": "y1"}
          }
        },
        {
          "transform": [{"filter": "datum.b < 0 && (datum.p < 289 || datum.p > 301)"}, {"stack": "b", "groupby": ["p"], "sort": [{"field": "b", "order": "descending"}], "as": ["y0", "y1"]}],
          "mark": {"type": "image", "aspect": false, "width": {"band": 0.93}, "clip": true},
          "encoding": {
            "y": {"field": "y0", "type": "quantitative", "scale": {"domain": [-1, 1.41], "nice": false, "zero": false},
              "axis": {"orient": "right", "title": "C", "titleAngle": 0, "titleAlign": "left", "titleBaseline": "alphabetic", "titleX": 3, "titleY": 138, "titleFontSize": 16, "titleFontWeight": "normal", "titleColor": "#111", "labels": false, "ticks": false, "domain": false, "grid": true, "values": [0], "gridColor": "#333", "gridWidth": 1.5, "zindex": 1}},
            "y2": {"field": "y1"}
          }
        },
        {
          "transform": [{"filter": "datum.b < 0 && datum.p >= 289 && datum.p <= 301"}, {"stack": "b", "groupby": ["p"], "sort": [{"field": "b", "order": "descending"}], "as": ["y0", "y1"]}],
          "mark": {"type": "image", "aspect": false, "width": {"band": 0.45}, "clip": true},
          "encoding": {
            "y": {"field": "y0", "type": "quantitative", "scale": {"domain": [-1, 1.41], "nice": false, "zero": false}, "axis": null},
            "y2": {"field": "y1"}
          }
        }
      ],
      "resolve": {"axis": {"y": "independent"}}
    },
    {
      "width": 560, "height": 123,
      "transform": [{"filter": "datum.p >= 320 && datum.p <= 359"}],
      "encoding": {
        "x": {"field": "p", "type": "ordinal", "scale": {"paddingInner": 0, "paddingOuter": 0},
          "axis": {"labelExpr": "datum.value % 5 == 0 ? datum.label : ''", "labelAngle": 0, "labelOverlap": false, "ticks": false, "domain": false, "labelFontSize": 12, "labelPadding": 3, "labelColor": "#111",
            "title": "N", "titleAnchor": "start", "titleAlign": "left", "titleBaseline": "alphabetic", "titleX": -14, "titleY": 15, "titleFontSize": 16, "titleFontWeight": "normal", "titleColor": "#111"}},
        "url": {"field": "img", "type": "nominal"}
      },
      "layer": [
        {
          "transform": [{"filter": "datum.b > 0"}, {"stack": "b", "groupby": ["p"], "sort": [{"field": "b", "order": "ascending"}], "as": ["y0", "y1"]}],
          "mark": {"type": "image", "aspect": false, "width": {"band": 0.93}, "clip": true},
          "encoding": {
            "y": {"field": "y0", "type": "quantitative", "scale": {"domain": [-1, 1.41], "nice": false, "zero": false},
              "axis": {"title": "Bits", "values": [-0.9,-0.8,-0.7,-0.6,-0.5,-0.4,-0.3,-0.2,-0.1,0,0.1,0.2,0.3,0.4,0.5,0.6,0.7,0.8,0.9,1,1.1,1.2,1.3,1.4], "labelExpr": "datum.value == 0 ? '0.0' : datum.value == 0.5 ? '0.5' : datum.value == 1 ? '1.0' : datum.value == -0.5 ? '-0.5' : ''", "labelOverlap": false, "tickSize": 4, "tickColor": "#000", "domainColor": "#000", "labelPadding": 2, "labelFontSize": 12, "labelColor": "#111", "grid": false, "titleFontSize": 14, "titleFontWeight": "normal", "titleColor": "#111", "titleAngle": -90, "titleX": -33, "titleY": 61.5, "titleAlign": "center", "titleBaseline": "middle"}},
            "y2": {"field": "y1"}
          }
        },
        {
          "transform": [{"filter": "datum.b < 0"}, {"stack": "b", "groupby": ["p"], "sort": [{"field": "b", "order": "descending"}], "as": ["y0", "y1"]}],
          "mark": {"type": "image", "aspect": false, "width": {"band": 0.93}, "clip": true},
          "encoding": {
            "y": {"field": "y0", "type": "quantitative", "scale": {"domain": [-1, 1.41], "nice": false, "zero": false},
              "axis": {"orient": "right", "title": "C", "titleAngle": 0, "titleAlign": "left", "titleBaseline": "alphabetic", "titleX": 3, "titleY": 138, "titleFontSize": 16, "titleFontWeight": "normal", "titleColor": "#111", "labels": false, "ticks": false, "domain": false, "grid": true, "values": [0], "gridColor": "#333", "gridWidth": 1.5, "zindex": 1}},
            "y2": {"field": "y1"}
          }
        }
      ],
      "resolve": {"axis": {"y": "independent"}}
    }
  ],
  "config": {
    "view": {"stroke": null},
    "font": "Liberation Sans",
    "axis": {"labelFont": "Liberation Sans", "titleFont": "Liberation Sans"}
  }
}
